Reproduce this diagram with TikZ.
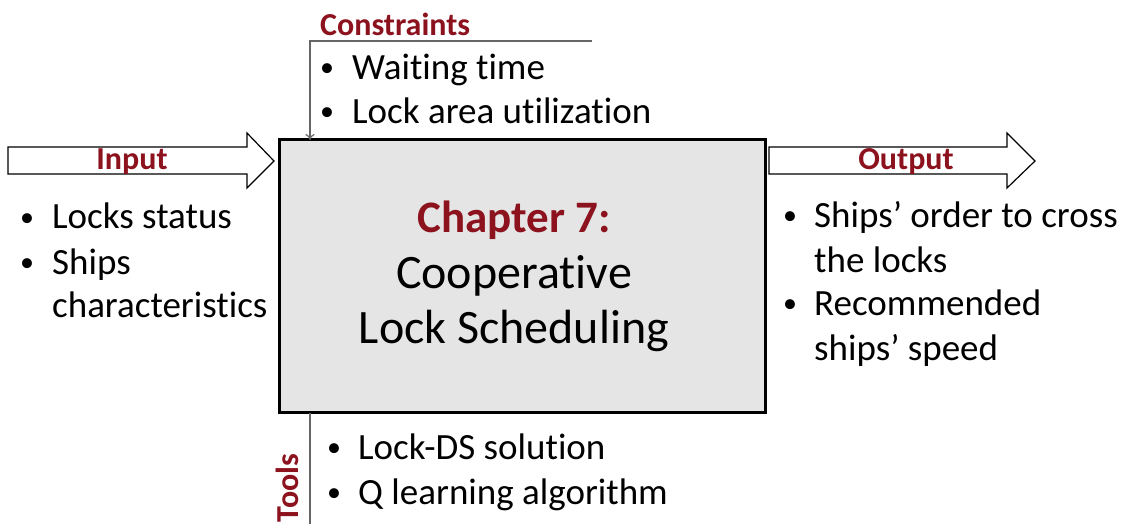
\documentclass[tikz,border=0pt]{standalone}
\usepackage{fontspec}
\setmainfont{Carlito}[Ligatures=NoCommon]
\usetikzlibrary{arrows.meta}
\definecolor{darkred}{RGB}{140,18,30}
\definecolor{boxgray}{RGB}{229,229,229}
\tikzset{
  body/.style={font=\fontsize{37}{44}\selectfont, anchor=base west, inner sep=0pt},
  bul/.style={font=\fontsize{28}{34}\selectfont, anchor=base west, inner sep=0pt, yshift=3pt},
  lab/.style={font=\fontsize{32}{36}\selectfont\bfseries, text=darkred, inner sep=0pt},
  big/.style={font=\fontsize{48}{55}\selectfont, anchor=base, inner sep=0pt},
  fatarrow/.style={draw=black, line width=1.2pt, fill=white, line join=miter},
  thinline/.style={draw=black!60, line width=1.2pt}
}
\begin{document}
\begin{tikzpicture}[x=1pt,y=-1pt]
\useasboundingbox (0,0) rectangle (1128,524);
% main box
\node[draw=black, line width=3pt, fill=boxgray, minimum width=486pt, minimum height=272pt, inner sep=0pt] (box) at (522,276) {};
\node[big, font=\fontsize{45}{55}\selectfont\bfseries, text=darkred] (t1) at (514,233) {Chapter 7:};
\node[big] (t2) at (514,288) {Cooperative};
\node[big] (t3) at (514,343) {Lock Scheduling};
% input arrow
\draw[fatarrow] (8,147) -- (247,147) -- (247,133) -- (274,161) -- (247,188) -- (247,174) -- (8,174) -- cycle;
\node[lab] (inlab) at (132,162) {Input};
% output arrow
\draw[fatarrow] (769,147) -- (1007,147) -- (1007,133) -- (1035,161) -- (1007,188) -- (1007,174) -- (769,174) -- cycle;
\node[lab] (outlab) at (906,162) {Output};
% constraints
\node[lab, anchor=west] (conlab) at (320,24) {Constraints};
\coordinate (cstart) at (592,41);
\coordinate (ccorner) at (310,41);
\coordinate (cend) at (310,140);
\draw[thinline, -{To[length=6pt,width=9pt]}] (cstart) -- (ccorner) -- (cend);
\node[bul] (cb1) at (320,80) {•};
\node[body] (c1) at (352,80) {Waiting time};
\node[bul] (cb2) at (320,124) {•};
\node[body] (c2) at (352,124) {Lock area utilization};
% inputs
\node[bul] (ib1) at (20,229) {•};
\node[body] (i1) at (52,229) {Locks status};
\node[bul] (ib2) at (20,274) {•};
\node[body] (i2) at (52,274) {Ships};
\node[body] (i3) at (52,317) {characteristics};
% outputs
\node[bul] (ob1) at (783,228) {•};
\node[body] (o1) at (814,228) {Ships’ order to cross};
\node[body] (o2) at (814,272) {the locks};
\node[bul] (ob2) at (783,315) {•};
\node[body] (o3) at (814,315) {Recommended};
\node[body] (o4) at (814,360) {ships’ speed};
% tools
\coordinate (ttop) at (310,413);
\coordinate (tbot) at (310,524);
\draw[thinline] (ttop) -- (tbot);
\node[lab, rotate=90] (toollab) at (287,488) {Tools};
\node[bul] (tb1) at (327,459) {•};
\node[body] (tl1) at (358,459) {Lock-DS solution};
\node[bul] (tb2) at (327,504) {•};
\node[body] (tl2) at (358,504) {Q learning algorithm};
\end{tikzpicture}
\end{document}
